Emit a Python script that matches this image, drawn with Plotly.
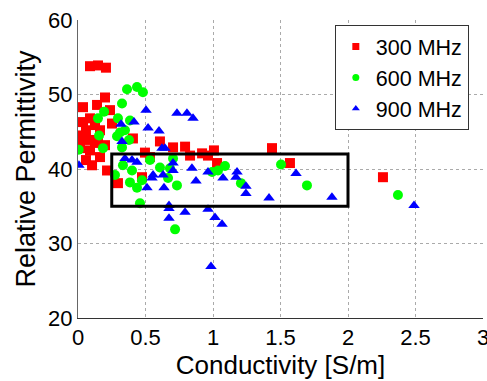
import plotly.graph_objects as go

# 300 MHz
red_x = [0.089, 0.148, 0.207, 0.200, 0.037, 0.141, 0.237, 0.037, 0.089, 0.015, 0.059, 0.126,
         0.163, 0.005, 0.074, 0.126, 0.200, 0.015, 0.089, 0.252, 0.407, 0.607, 0.704, 0.793,
         0.919, 0.496, 0.533, 0.163, 0.104, 0.296, 0.474, 0.148, 1.007, 1.030, 1.437, 1.570,
         2.259, 0.215, 0.830, 0.963, 0.059]
red_y = [53.8, 53.9, 53.6, 49.6, 48.3, 48.6, 47.9, 46.3, 46.8, 44.5, 45.2, 45.9,
         45.2, 43.9, 43.9, 43.5, 43.2, 42.8, 42.5, 46.1, 44.1, 43.7, 42.9, 43.0,
         42.1, 42.2, 41.6, 41.6, 40.5, 38.1, 38.9, 43.9, 42.5, 40.8, 42.8, 40.8,
         38.9, 39.8, 41.8, 41.8, 41.2]

# 600 MHz
green_x = [0.363, 0.437, 0.481, 0.326, 0.193, 0.148, 0.296, 0.385, 0.311, 0.289, 0.348, 0.156,
           0.378, 0.326, 0.005, 0.185, 0.704, 0.333, 0.400, 0.607, 0.681, 0.385, 0.437, 0.733,
           0.274, 0.533, 0.993, 1.037, 1.089, 1.504, 1.207, 1.696, 2.370, 0.459, 0.719, 0.667,
           0.474]
green_y = [50.7, 51.0, 50.3, 48.8, 47.7, 46.8, 46.8, 46.5, 44.9, 44.4, 45.2, 44.5,
           43.9, 42.9, 42.6, 42.8, 41.4, 40.5, 39.8, 40.2, 40.1, 38.2, 37.5, 37.8,
           39.2, 41.2, 39.6, 39.8, 40.4, 40.6, 38.1, 37.8, 36.5, 35.4, 31.9, 38.8,
           38.5]

# 900 MHz
blue_x = [0.007, 0.504, 0.733, 0.807, 0.852, 0.319, 0.415, 0.519, 0.600, 0.326, 0.437, 0.348,
          0.400, 0.622, 0.644, 0.704, 0.704, 0.556, 0.630, 0.548, 0.511, 0.637, 0.844, 0.874,
          0.963, 0.674, 0.674, 0.793, 0.674, 0.963, 1.015, 1.067, 0.985, 1.074, 1.178, 1.170,
          1.244, 1.244, 1.415, 1.615, 1.881, 2.489]
blue_y = [40.5, 47.9, 47.5, 47.5, 46.8, 46.0, 46.3, 45.5, 45.1, 43.7, 40.9, 41.4,
          41.2, 42.8, 42.8, 40.8, 39.8, 39.2, 39.2, 38.8, 37.5, 37.5, 40.1, 38.4,
          39.6, 35.1, 34.7, 34.2, 33.4, 34.6, 33.5, 32.6, 26.9, 38.8, 39.6, 38.9,
          37.7, 36.7, 36.1, 39.4, 36.2, 35.1]

series_names = ["300 MHz", "600 MHz", "900 MHz"]
x_ticks = [0, 0.5, 1, 1.5, 2, 2.5, 3]
x_tick_labels = ["0", "0.5", "1", "1.5", "2", "2.5", "3"]
y_ticks = [20, 30, 40, 50, 60]
box_x = [0.25, 2.0]
box_y = [35, 42]

colors = ["#ff0000", "#00ff00", "#0000ff"]
symbols = ["square", "circle", "triangle-up"]
xs = [red_x, green_x, blue_x]
ys = [red_y, green_y, blue_y]

fig = go.Figure()
for i in range(3):
    fig.add_trace(go.Scatter(x=xs[i], y=ys[i], mode="markers", name=series_names[i],
                             showlegend=False,
                             marker=dict(symbol=symbols[i], size=10, color=colors[i], line=dict(width=0))))
# legend entries with smaller symbols
for i in range(3):
    fig.add_trace(go.Scatter(x=[None], y=[None], mode="markers", name=series_names[i],
                             marker=dict(symbol=symbols[i], size=7, color=colors[i], line=dict(width=0))))

fig.add_shape(type="rect", xref="x", yref="y", x0=box_x[0], x1=box_x[1], y0=box_y[0], y1=box_y[1],
              line=dict(color="black", width=3), fillcolor="rgba(0,0,0,0)")

font_family = "Liberation Sans, Arial, sans-serif"
fig.update_layout(
    width=487, height=381,
    margin=dict(l=78, r=4, t=20, b=63),
    paper_bgcolor="white", plot_bgcolor="white",
    font=dict(family=font_family, color="black", size=22),
    showlegend=True,
    legend=dict(x=0.965, y=0.983, xanchor="right", yanchor="top",
                bordercolor="#333333", borderwidth=1, bgcolor="white",
                font=dict(size=21.5), itemsizing="trace", tracegroupgap=0,
                itemwidth=30),
    xaxis=dict(range=[0, 3], tickvals=x_ticks, ticktext=x_tick_labels, automargin=False,
               showgrid=True, gridcolor="#aaaaaa", griddash="dot", gridwidth=1,
               showline=True, linecolor="#333333", linewidth=1, mirror=False,
               zeroline=False, ticks="", tickfont=dict(size=22), ticklabeloverflow="allow",
               title=dict(text="Conductivity [S/m]", font=dict(size=26), standoff=1)),
    yaxis=dict(range=[20, 60], tickvals=y_ticks, automargin=False,
               showgrid=True, gridcolor="#aaaaaa", griddash="dot", gridwidth=1,
               showline=True, linecolor="#666666", linewidth=1, mirror=False,
               zeroline=False, ticks="", tickfont=dict(size=22),
               title=dict(text="Relative Permittivity", font=dict(size=27), standoff=4)),
)

fig.write_html("out.html", config={"displayModeBar": False},
               post_script="document.body.style.margin='0px';document.body.style.overflow='hidden';")
